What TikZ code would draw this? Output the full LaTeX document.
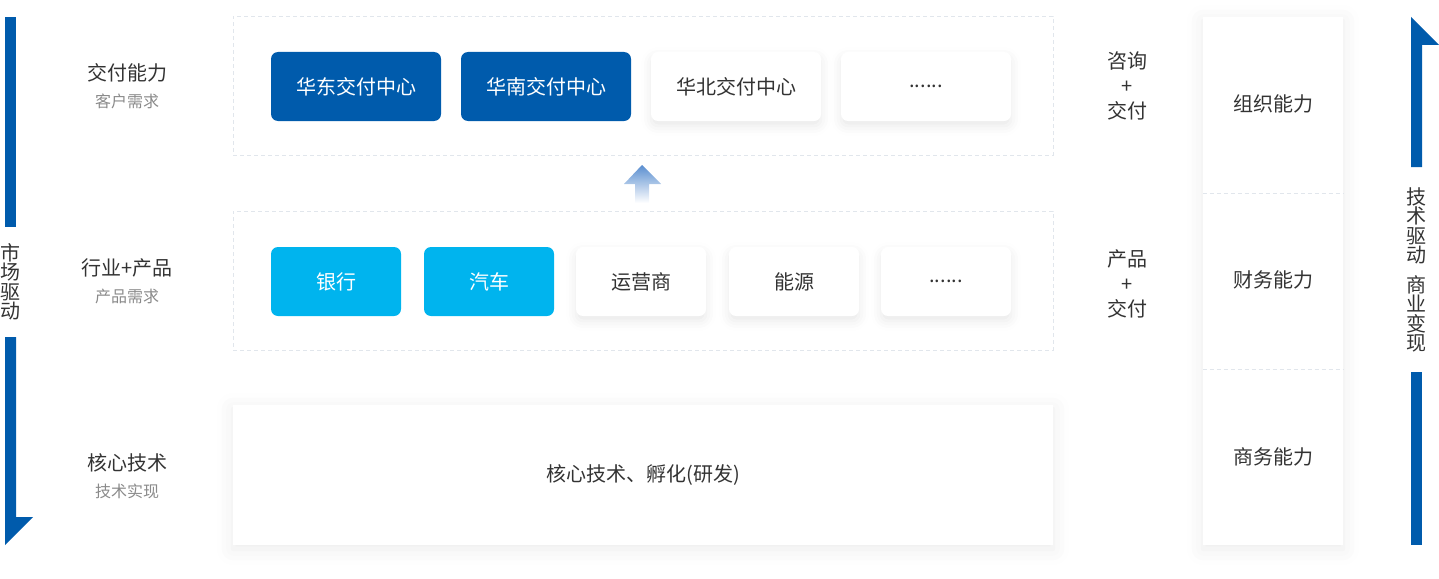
\documentclass[tikz,border=0pt]{standalone}
\usepackage{fontspec}
\newfontfamily\cjk{Noto Sans CJK SC}
\usetikzlibrary{shadows,shadows.blur,shapes,calc,positioning}
\definecolor{darkblue}{HTML}{005BAC}
\definecolor{lightblue}{HTML}{00B4EE}
\definecolor{txt}{HTML}{333333}
\definecolor{subtxt}{HTML}{8A8A8A}
\definecolor{dashline}{HTML}{E1E6EC}
\definecolor{arrowtop}{HTML}{5A8ED0}

\begin{document}
\begin{tikzpicture}[x=1pt,y=-1pt,text=txt,
  font=\cjk\fontsize{20}{21}\selectfont]
    \tikzstyle{panel}=[draw=dashline,dash pattern=on 4pt off 3pt,minimum width=820pt,minimum height=139pt,inner sep=0pt]
    \tikzstyle{card}=[rounded corners=7pt,minimum height=69pt,inner sep=0pt]
    \tikzstyle{dark}=[card,fill=darkblue,text=white]
    \tikzstyle{light}=[card,fill=lightblue,text=white]
    \tikzstyle{plain}=[card,fill=white,blur shadow={shadow xshift=0pt,shadow yshift=-5pt,shadow blur radius=10pt,shadow opacity=9}]
    \tikzstyle{sub}=[text=subtxt,font=\cjk\fontsize{16}{17}\selectfont]
    \tikzstyle{stack}=[align=center,inner sep=0pt,font=\cjk\fontsize{20}{25}\selectfont]
    \tikzstyle{vert}=[align=center,inner sep=0pt,font=\cjk\fontsize{20}{19.5}\selectfont]

    \useasboundingbox (0,0) rectangle (1439,578);

    % panels
    \node[panel] (top) at (643,85.5) {};
    \node[panel] (mid) at (643,280.5) {};
    \node[fill=white,minimum width=820pt,minimum height=140pt,inner sep=0pt,
      blur shadow={shadow xshift=0pt,shadow yshift=-4pt,shadow blur radius=16pt,shadow opacity=8}]
      (core) at (643,475) {核心技术、孵化(研发)};

    % delivery centres
    \node[dark,minimum width=170pt]  (east)  at (356,86.5) {华东交付中心};
    \node[dark,minimum width=170pt]  (south) at (546,86.5) {华南交付中心};
    \node[plain,minimum width=170pt] (north) at (736,86.5) {华北交付中心};
    \node[plain,minimum width=170pt] (more1) at (926,86.5) {......};

    % industries
    \node[light,minimum width=130pt] (bank)   at (336,281.5) {银行};
    \node[light,minimum width=130pt] (car)    at (489,281.5) {汽车};
    \node[plain,minimum width=130pt] (telco)  at (641,281.5) {运营商};
    \node[plain,minimum width=130pt] (energy) at (794,281.5) {能源};
    \node[plain,minimum width=130pt] (more2)  at (946,281.5) {......};

    % up arrow between the panels
    \shade[top color=arrowtop,bottom color=white]
      (642,165) -- (661,184) -- (649,184) -- (649,203) -- (635,203) -- (635,184) -- (624,184) -- cycle;

    % left labels
    \node (deliv)   at (127,73)  {交付能力};
    \node[sub] (custdem) at (127,101) {客户需求};
    \node (indus)   at (127,268) {行业+产品};
    \node[sub] (proddem) at (127,296) {产品需求};
    \node (tech)    at (127,463) {核心技术};
    \node[sub] (techimp) at (127,491) {技术实现};

    % middle-right labels
    \node[stack] (consult) at (1127,86)  {咨询\\+\\交付};
    \node[stack] (product) at (1127,284) {产品\\+\\交付};

    % capability column
    \node[fill=white,minimum width=140pt,minimum height=528pt,inner sep=0pt,
      blur shadow={shadow xshift=0pt,shadow yshift=-4pt,shadow blur radius=16pt,shadow opacity=8}]
      (caps) at (1273,281) {};
    \draw[dashline,dash pattern=on 4pt off 3pt] (caps.west |- 0,193) -- (caps.east |- 0,193);
    \draw[dashline,dash pattern=on 4pt off 3pt] (caps.west |- 0,369) -- (caps.east |- 0,369);
    \node (org)   at (1273,104) {组织能力};
    \node (fin)   at (1273,280) {财务能力};
    \node (biz)   at (1273,457) {商务能力};

    % market driven arrow
    \fill[darkblue] (5,17) rectangle (16,227);
    \fill[darkblue] (5,337) -- (16,337) -- (16,517) -- (33,517) -- (5,545) -- cycle;
    \node[vert] (market) at (10,282) {市\\场\\驱\\动};

    % technology driven arrow
    \fill[darkblue] (1411,167) -- (1411,17) -- (1439,45) -- (1422,45) -- (1422,167) -- cycle;
    \fill[darkblue] (1411,372) rectangle (1422,545);
    \node[vert] (techdrv) at (1416,270) {技\\术\\驱\\动\\[10pt]商\\业\\变\\现};

\end{tikzpicture}
\end{document}
